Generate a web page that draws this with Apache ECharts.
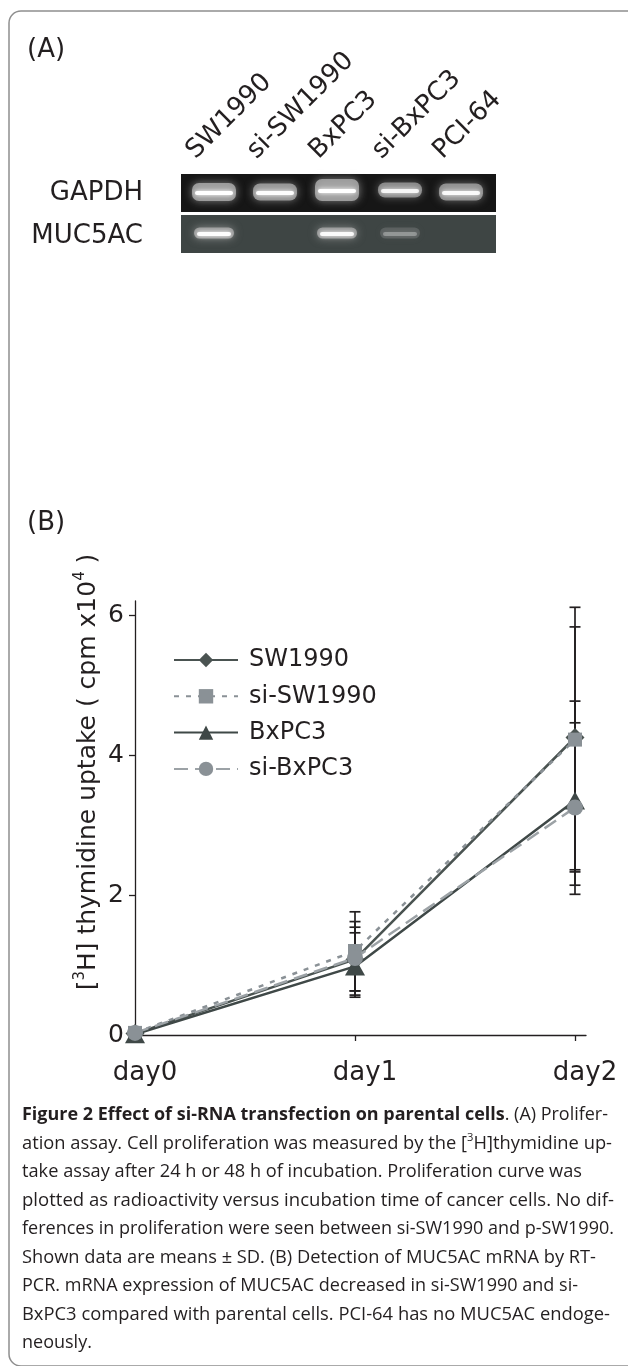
<!DOCTYPE html>
<html><head><meta charset="utf-8">
<script src="https://cdn.jsdelivr.net/npm/echarts@6/dist/echarts.min.js"></script>
<style>html,body{margin:0;padding:0;background:#fff}#c{width:628px;height:1366px}</style>
</head><body><div id="c"></div>
<script>
// ---------- data ----------
const days = ['day0', 'day1', 'day2'];
const dayIndex = [0, 1, 2];
const seriesNames = ['SW1990', 'si-SW1990', 'BxPC3', 'si-BxPC3'];
const sw1990 = [0.02, 1.08, 4.25];
const siSw1990 = [0.03, 1.20, 4.22];
const bxpc3 = [0.01, 0.98, 3.35];
const siBxpc3 = [0.03, 1.10, 3.25];
const sw1990High = [0.02, 1.62, 6.11];
const sw1990Low = [0.02, 0.57, 2.36];
const siSw1990High = [0.03, 1.76, 5.83];
const siSw1990Low = [0.03, 0.63, 2.33];
const bxpc3High = [0.01, 1.46, 4.77];
const bxpc3Low = [0.01, 0.54, 2.14];
const siBxpc3High = [0.03, 1.54, 4.46];
const siBxpc3Low = [0.03, 0.63, 2.01];
const yTicks = [0, 2, 4, 6];
const xTickMarks = [1, 2];
const lanes = ['SW1990', 'si-SW1990', 'BxPC3', 'si-BxPC3', 'PCI-64'];
const gelRows = ['GAPDH', 'MUC5AC'];
const gapdhIntensity = [1.0, 0.95, 1.0, 0.85, 0.9];
const muc5acIntensity = [0.95, 0, 0.9, 0.3, 0];
const captionLines = [
  [['b', 'Figure 2 Effect of si-RNA transfection on parental cells'], ['r', '. (A) Prolifer-']],
  [['r', 'ation assay. Cell proliferation was measured by the ['], ['s', '3'], ['r', 'H]thymidine up-']],
  [['r', 'take assay after 24 h or 48 h of incubation. Proliferation curve was']],
  [['r', 'plotted as radioactivity versus incubation time of cancer cells. No dif-']],
  [['r', 'ferences in proliferation were seen between si-SW1990 and p-SW1990.']],
  [['r', 'Shown data are means \u00b1 SD. (B) Detection of MUC5AC mRNA by RT-']],
  [['r', 'PCR. mRNA expression of MUC5AC decreased in si-SW1990 and si-']],
  [['r', 'BxPC3 compared with parental cells. PCI-64 has no MUC5AC endoge-']],
  [['r', 'neously.']]
];

// ---------- layout / style ----------
const FONT = 'DejaVu Sans';
const CAP_FONT = 'Open Sans';
const INK = '#231f20';
const dark = '#4a5351', darker = '#3f4847', grey = '#8a9196', lightGrey = '#9ca2a6';
const laneX = [214, 275, 337, 400, 461];
const gapdhBandY = [192, 192, 190, 190, 192];
const gapdhBandH = [18, 17, 22, 15, 17];
const capEnds = [608, 612, 582, 614, 614, 596, 578, 610, null];
const capX = 22, capY0 = 1115, capStep = 28.5, capSize = 18;

const chart = echarts.init(document.getElementById('c'), null, {renderer: 'canvas'});

function errSeries(name, low, high) {
  return {
    type: 'custom', name: name + ' SD', silent: true, z: 1,
    encode: {x: 0, y: [1, 2]},
    data: dayIndex.filter((x, i) => high[i] > low[i]).map(x => [x, low[x], high[x]]),
    renderItem: function (params, api) {
      const x = api.value(0);
      const p1 = api.coord([x, api.value(1)]);
      const p2 = api.coord([x, api.value(2)]);
      const w = 5.5;
      const st = {stroke: INK, lineWidth: 1.7};
      return {type: 'group', children: [
        {type: 'line', shape: {x1: p1[0], y1: p1[1], x2: p2[0], y2: p2[1]}, style: st},
        {type: 'line', shape: {x1: p1[0] - w, y1: p1[1], x2: p1[0] + w, y2: p1[1]}, style: st},
        {type: 'line', shape: {x1: p2[0] - w, y1: p2[1], x2: p2[0] + w, y2: p2[1]}, style: st}
      ]};
    }
  };
}
function lineSeries(name, vals, symbol, size, color, lineColor, type, z) {
  return {
    name: name, type: 'line', z: z,
    data: dayIndex.map((x, i) => [x, vals[i]]),
    symbol: symbol, symbolSize: size,
    itemStyle: {color: color},
    lineStyle: {color: lineColor, width: 2.5, type: type},
    emphasis: {disabled: true}
  };
}

// ---------- graphics ----------
const graphics = [];
graphics.push({type: 'rect', shape: {x: 9, y: 11, width: 650, height: 1355, r: 12},
  style: {fill: 'none', stroke: '#8f8f8f', lineWidth: 1.5}, silent: true});
graphics.push({type: 'text', x: 27, y: 50, style: {text: '(A)', font: '26px "' + FONT + '"', fill: INK, align: 'left', verticalAlign: 'middle'}});
graphics.push({type: 'text', x: 27, y: 523, style: {text: '(B)', font: '26px "' + FONT + '"', fill: INK, align: 'left', verticalAlign: 'middle'}});
// gel backgrounds
graphics.push({type: 'rect', shape: {x: 181, y: 174, width: 315, height: 38}, style: {fill: '#161616'}});
graphics.push({type: 'rect', shape: {x: 181, y: 215, width: 315, height: 38}, style: {fill: '#3e4544'}});
// gel row labels
graphics.push({type: 'text', x: 143, y: 193, style: {text: gelRows[0], font: '26px "' + FONT + '"', fill: INK, align: 'right', verticalAlign: 'middle'}});
graphics.push({type: 'text', x: 143, y: 236, style: {text: gelRows[1], font: '26px "' + FONT + '"', fill: INK, align: 'right', verticalAlign: 'middle'}});
// bands
function band(cx, cy, w, h, I) {
  if (I <= 0) return;
  graphics.push({type: 'rect', shape: {x: cx - w / 2, y: cy - h / 2, width: w, height: h, r: Math.min(7, h / 2)},
    style: {fill: 'rgba(175,175,175,' + (0.8 * I) + ')', shadowBlur: 8, shadowColor: 'rgba(190,190,190,' + (0.8 * I) + ')'}});
  graphics.push({type: 'rect', shape: {x: cx - w / 2 + 3, y: cy - 1, width: w - 6, height: 4, r: 2},
    style: {fill: 'rgba(255,255,255,' + I + ')', shadowBlur: 4, shadowColor: 'rgba(255,255,255,' + I + ')'}});
}
lanes.forEach((l, i) => {
  band(laneX[i], gapdhBandY[i], 44, gapdhBandH[i], gapdhIntensity[i]);
  band(laneX[i], 233, 40, 11, muc5acIntensity[i]);
  graphics.push({type: 'text', x: laneX[i] - 14, y: 164, rotation: Math.PI / 4,
    style: {text: l, font: '26px "' + FONT + '"', fill: INK, align: 'left', verticalAlign: 'bottom'}});
});
// y axis title
graphics.push({type: 'text', x: 88, y: 772, rotation: Math.PI / 2,
  style: {text: '{t|[}{s|3}{t|H] thymidine uptake ( cpm x10}{s|4}{t| )}', align: 'center', verticalAlign: 'middle',
    rich: {t: {fontFamily: FONT, fontSize: 25, lineHeight: 30, fill: INK},
           s: {fontFamily: FONT, fontSize: 15, lineHeight: 16, verticalAlign: 'top', fill: INK}}}});
// caption
const mctx = document.createElement('canvas').getContext('2d');
function segFont(k) {
  return k === 'b' ? 'bold ' + capSize + 'px "' + CAP_FONT + '"' : k === 's' ? '11px "' + CAP_FONT + '"' : capSize + 'px "' + CAP_FONT + '"';
}
captionLines.forEach((segs, i) => {
  let w = 0, txt = '';
  segs.forEach(s => { mctx.font = segFont(s[0]); w += mctx.measureText(s[1]).width; txt += '{' + s[0] + '|' + s[1] + '}'; });
  const end = capEnds[i];
  const sx = end ? (end - capX) / w : 1;
  graphics.push({type: 'text', x: capX, y: capY0 + i * capStep, scaleX: sx,
    style: {text: txt, align: 'left', verticalAlign: 'middle',
      rich: {b: {fontFamily: CAP_FONT, fontSize: capSize, fontWeight: 'bold', lineHeight: 22, fill: INK},
             r: {fontFamily: CAP_FONT, fontSize: capSize, lineHeight: 22, fill: INK},
             s: {fontFamily: CAP_FONT, fontSize: 11, lineHeight: 12, verticalAlign: 'top', fill: INK}}}});
});

const option = {
  animation: false,
  backgroundColor: '#ffffff',
  grid: {left: 135, top: 601, width: 451, bottom: 331, containLabel: false, outerBoundsMode: 'none'},
  legend: {
    data: seriesNames, orient: 'vertical', left: 173, top: 648, padding: 0,
    itemWidth: 64, itemHeight: 18, itemGap: 12.3, selectedMode: false,
    textStyle: {fontFamily: FONT, fontSize: 24, color: INK, padding: [0, 0, 0, 6]}
  },
  xAxis: {
    type: 'value', min: 0, max: 2.05, interval: 1,
    axisLine: {show: true, onZero: false, lineStyle: {color: INK, width: 1.3}},
    axisTick: {show: true, length: 6, customValues: xTickMarks, lineStyle: {color: INK, width: 1.3}},
    axisLabel: {customValues: dayIndex, formatter: v => days[Math.round(v)], fontFamily: FONT, fontSize: 26, color: INK, margin: 25, padding: [0, 0, 0, 20]},
    splitLine: {show: false}
  },
  yAxis: {
    type: 'value', min: 0, max: 6.2, interval: 2,
    axisLine: {show: true, lineStyle: {color: INK, width: 1.3}},
    axisTick: {show: true, length: 6, customValues: yTicks, lineStyle: {color: INK, width: 1.3}},
    axisLabel: {customValues: yTicks, fontFamily: FONT, fontSize: 25, color: INK, margin: 11},
    splitLine: {show: false}
  },
  graphic: graphics,
  series: [
    errSeries('SW1990', sw1990Low, sw1990High),
    errSeries('si-SW1990', siSw1990Low, siSw1990High),
    errSeries('BxPC3', bxpc3Low, bxpc3High),
    errSeries('si-BxPC3', siBxpc3Low, siBxpc3High),
    lineSeries('SW1990', sw1990, 'diamond', [19, 19], dark, dark, 'solid', 3),
    lineSeries('si-SW1990', siSw1990, 'rect', [14, 14], grey, grey, [5, 7], 4),
    lineSeries('BxPC3', bxpc3, 'triangle', [20, 18], darker, darker, 'solid', 5),
    lineSeries('si-BxPC3', siBxpc3, 'circle', [16, 16], grey, lightGrey, [14, 7], 6)
  ]
};
chart.setOption(option);
</script></body></html>
